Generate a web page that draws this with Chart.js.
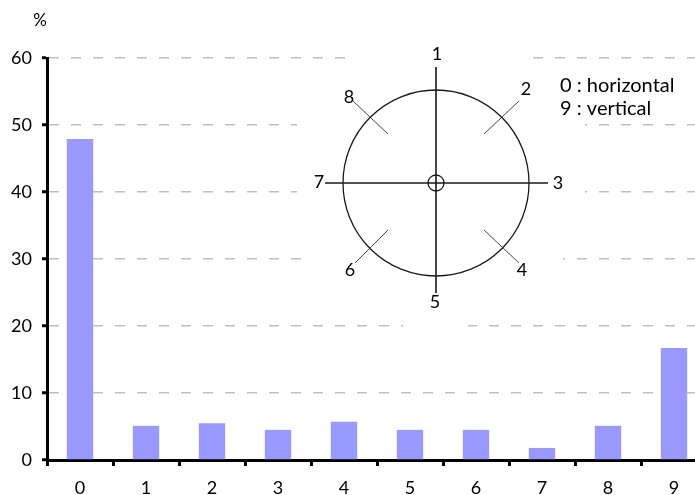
<!DOCTYPE html>
<html>
<head>
<meta charset="utf-8">
<script src="https://cdn.jsdelivr.net/npm/chart.js@4"></script>
<style>
html, body { margin: 0; padding: 0; background: #fff; overflow: hidden; width: 695px; height: 495px; }
#wrap { width: 712px; height: 495px; }
</style>
</head>
<body>
<div id="wrap"><canvas id="chart" width="712" height="495"></canvas></div>
<script>
// categories (0 = horizontal, 9 = vertical)
var categories = ["0", "1", "2", "3", "4", "5", "6", "7", "8", "9"];
// share of occurrences, in %
var percents   = [47.9, 5.1, 5.5, 4.5, 5.7, 4.5, 4.5, 1.8, 5.1, 16.7];
var yTicks     = [0, 10, 20, 30, 40, 50, 60];
var legendText = ["0 : horizontal", "9 : vertical"];
var dialLabels = ["1", "2", "3", "4", "5", "6", "7", "8"];

var FONT = "Lato, 'Open Sans', sans-serif";

// inset: the direction dial plus the small legend, on a white patch
var dialPlugin = {
        id: "dial",
        beforeDatasetsDraw: function(chart) {
                var ctx = chart.ctx;
                ctx.save();
                ctx.fillStyle = "#ffffff";
                ctx.fillRect(347, 50, 180, 14);
                ctx.fillRect(297, 64, 288, 136);
                ctx.fillRect(305, 200, 258, 100);
                ctx.fillRect(403, 300, 65, 30);
                ctx.restore();
        },
        afterDraw: function(chart) {
                var ctx = chart.ctx;
                var cx = 436, cy = 183, r = 93;
                ctx.save();
                ctx.strokeStyle = "#1a1a1a";

                ctx.lineWidth = 1.3;
                ctx.beginPath();
                ctx.arc(cx, cy, r, 0, Math.PI * 2);
                ctx.stroke();

                ctx.beginPath();
                ctx.arc(cx, cy, 8, 0, Math.PI * 2);
                ctx.stroke();

                ctx.lineWidth = 1.6;
                ctx.beginPath();
                ctx.moveTo(cx, 67);  ctx.lineTo(cx, 293);
                ctx.moveTo(325, cy); ctx.lineTo(548, cy);
                ctx.stroke();

                ctx.lineWidth = 0.9;
                ctx.strokeStyle = "#333";
                ctx.beginPath();
                ctx.moveTo(353, 101); ctx.lineTo(388, 134);
                ctx.moveTo(519, 101); ctx.lineTo(484, 134);
                ctx.moveTo(519, 263); ctx.lineTo(484, 230);
                ctx.moveTo(355, 263); ctx.lineTo(388, 230);
                ctx.stroke();

                ctx.fillStyle = "#000";
                ctx.font = "18px " + FONT;
                ctx.textAlign = "center";
                ctx.textBaseline = "middle";
                var pos = [[437, 54], [526, 89], [558, 183], [522, 270],
                           [435, 302], [350, 270], [319, 182], [349, 97]];
                for (var i = 0; i < dialLabels.length; i++) {
                        ctx.fillText(dialLabels[i], pos[i][0], pos[i][1]);
                }

                ctx.font = "20px " + FONT;
                ctx.textAlign = "left";
                ctx.textBaseline = "alphabetic";
                ctx.fillText(legendText[0], 560, 92);
                ctx.fillText(legendText[1], 560, 115);

                ctx.font = "17px " + FONT;
                ctx.textAlign = "center";
                ctx.textBaseline = "middle";
                ctx.fillText("%", 40, 21);
                ctx.restore();
        }
};

var MyChart = new Chart(document.getElementById("chart"), {
        type: "bar",
        data: {
                labels: categories,
                datasets: [{
                        data: percents,
                        backgroundColor: "#9999ff",
                        borderWidth: 0,
                        barPercentage: 0.4,
                        categoryPercentage: 1.0
                }]
        },
        options: {
                responsive: false,
                animation: false,
                layout: { padding: { top: 58, right: 5, left: 0, bottom: 0 } },
                plugins: {
                        legend: { display: false },
                        tooltip: { enabled: false }
                },
                scales: {
                        x: {
                                offset: true,
                                grid: {
                                        offset: true,
                                        drawOnChartArea: false,
                                        drawTicks: true,
                                        tickLength: 6,
                                        tickWidth: 3,
                                        tickColor: "#000"
                                },
                                border: { color: "#000", width: 3 },
                                ticks: {
                                        color: "#000",
                                        font: { family: FONT, size: 18 },
                                        padding: 11
                                },
                                afterFit: function(scale) { scale.height = 35; }
                        },
                        y: {
                                min: 0,
                                max: 60,
                                afterBuildTicks: function(scale) {
                                        scale.ticks = yTicks.map(function(v) { return { value: v }; });
                                },
                                grid: {
                                        color: "#c0c0c0",
                                        lineWidth: 1.5,
                                        tickLength: 5,
                                        tickWidth: 3,
                                        tickColor: "#000",
                                        tickBorderDash: []
                                },
                                border: { color: "#000", width: 3, dash: [10, 12] },
                                ticks: {
                                        color: "#000",
                                        font: { family: FONT, size: 18 },
                                        padding: 10
                                },
                                afterFit: function(scale) { scale.width = 47; }
                        }
                }
        },
        plugins: [dialPlugin]
});
</script>
</body>
</html>
